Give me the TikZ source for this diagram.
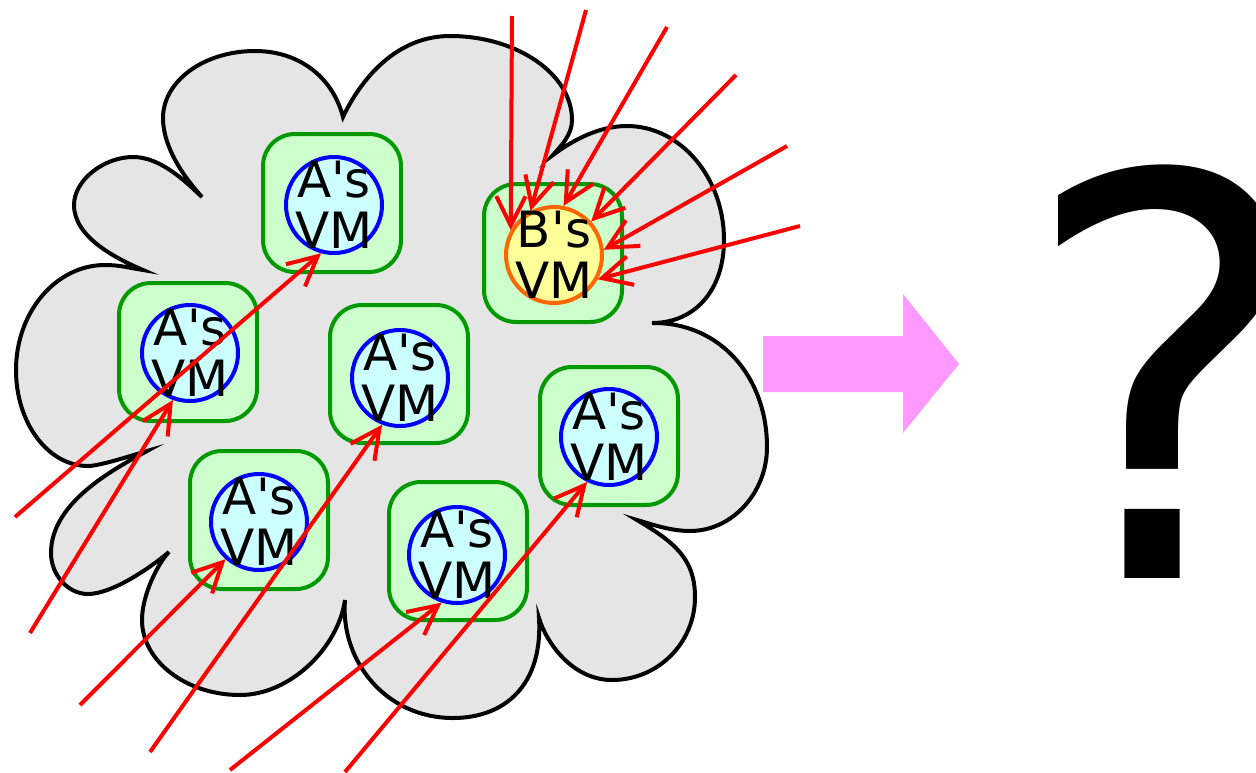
\documentclass[tikz,border=0pt]{standalone}
\usepackage{fontspec}
\newfontfamily\djv{DejaVu Sans}
\usetikzlibrary{arrows.meta}
\definecolor{cloudgray}{HTML}{E5E5E5}
\definecolor{boxgreen}{HTML}{CCFFCC}
\definecolor{boxline}{HTML}{009900}
\definecolor{vmcyan}{HTML}{CCFFFF}
\definecolor{vmyellow}{HTML}{FFFF99}
\definecolor{vmorange}{HTML}{FF6600}
\definecolor{pinkarrow}{HTML}{FF99FF}

\begin{document}
\begin{tikzpicture}[x=0.75pt,y=-0.75pt,
  cloud/.style={draw=black, fill=cloudgray, line width=3pt, line join=miter},
  host/.style={draw=boxline, fill=boxgreen, line width=3pt, rounded corners=24pt,
    minimum width=103.5pt, minimum height=103.5pt, inner sep=0pt},
  vm/.style={circle, draw=blue, fill=vmcyan, line width=3pt, minimum size=72pt, inner sep=0pt},
  vmb/.style={vm, draw=vmorange, fill=vmyellow},
  vmlabel/.style={font=\djv\fontsize{37.5pt}{38.25pt}\selectfont, align=center, inner sep=0pt},
  traffic/.style={draw=red, line width=3pt, -{Straight Barb[length=22pt,width=22pt,sharp]}},
]
\useasboundingbox (0,0) rectangle (1256,772);

% the cloud: ten bumps meeting in cusps
\filldraw[cloud] (143,270)
  .. controls (115,258) and (74,237) .. (74,205)
  .. controls (74,180) and (104,157) .. (133,157)
  .. controls (160,157) and (184,180) .. (202,197)
  .. controls (182,175) and (163,146) .. (163,118)
  .. controls (163,81) and (204,51) .. (255,51)
  .. controls (300,51) and (333,78) .. (343,117)
  .. controls (360,81) and (395,36) .. (450,36)
  .. controls (517,36) and (572,74) .. (572,120)
  .. controls (572,135) and (561,146) .. (553,155)
  .. controls (573,140) and (599,126) .. (627,126)
  .. controls (680,126) and (724,177) .. (724,240)
  .. controls (724,290) and (695,323) .. (652,323)
  .. controls (720,322) and (767,377) .. (767,447)
  .. controls (767,493) and (732,531) .. (690,531)
  .. controls (670,531) and (651,524) .. (637,520)
  .. controls (672,541) and (695,557) .. (695,597)
  .. controls (695,643) and (658,680) .. (612,680)
  .. controls (572,680) and (546,642) .. (539,618)
  .. controls (543,685) and (505,718) .. (453,718)
  .. controls (385,718) and (340,660) .. (345,600)
  .. controls (338,648) and (290,695) .. (240,695)
  .. controls (186,695) and (142,661) .. (142,620)
  .. controls (142,595) and (158,563) .. (169,552)
  .. controls (150,568) and (112,594) .. (88,594)
  .. controls (68,594) and (51,575) .. (51,553)
  .. controls (51,503) and (112,470) .. (147,451)
  .. controls (133,455) and (100,466) .. (88,466)
  .. controls (48,466) and (16,423) .. (16,370)
  .. controls (16,312) and (56,265) .. (105,265)
  .. controls (120,265) and (130,268) .. (143,270)
  -- cycle;

% hosts
\node[host] (h1) at (332,203) {};
\node[host] (h2) at (188,352) {};
\node[host] (h3) at (399,374) {};
\node[host] (h4) at (553,253) {};
\node[host] (h5) at (609,436) {};
\node[host] (h6) at (259,520) {};
\node[host] (h7) at (458,551) {};

% virtual machines
\node[vm] (vm1) at (334,205) {};
\node[vm] (vm2) at (190,353) {};
\node[vm] (vm3) at (400,378) {};
\node[vmb] (vm4) at (554,255) {};
\node[vm] (vm5) at (609,437) {};
\node[vm] (vm6) at (259,522) {};
\node[vm] (vm7) at (457,555) {};

\node[vmlabel] (t1) at (vm1) {A's\\VM};
\node[vmlabel] (t2) at (vm2) {A's\\VM};
\node[vmlabel] (t3) at (vm3) {A's\\VM};
\node[vmlabel] (t4) at (vm4) {B's\\VM};
\node[vmlabel] (t5) at (vm5) {A's\\VM};
\node[vmlabel] (t6) at (vm6) {A's\\VM};
\node[vmlabel] (t7) at (vm7) {A's\\VM};

% incoming traffic
\coordinate (s1) at (15,517);
\coordinate (s2) at (30,633);
\coordinate (s3) at (80,705);
\coordinate (s4) at (150,752);
\coordinate (s5) at (230,770);
\coordinate (s6) at (345,772);
\coordinate (b1) at (512,16);
\coordinate (b2) at (586,10);
\coordinate (b3) at (667,27);
\coordinate (b4) at (736,75);
\coordinate (b5) at (787,146);
\coordinate (b6) at (800,226);

\draw[traffic] (s1) -- (vm1.255);
\draw[traffic] (s2) -- (vm2.250);
\draw[traffic] (s3) -- (vm6.228);
\draw[traffic] (s4) -- (vm3.249);
\draw[traffic] (s5) -- (vm7.252);
\draw[traffic] (s6) -- (vm5.244);
\draw[traffic] (b1) -- (vm4.150);
\draw[traffic] (b2) -- (vm4.118);
\draw[traffic] (b3) -- (vm4.79);
\draw[traffic] (b4) -- (vm4.42);
\draw[traffic] (b5) -- (vm4.6);
\draw[traffic] (b6) -- (vm4.331);

% block arrow and question mark
\fill[pinkarrow] (763,336) -- (903,336) -- (903,294) -- (959,364) -- (903,433) -- (903,392) -- (763,392) -- cycle;
\node[font=\djv\fontsize{418pt}{418pt}\selectfont, anchor=base west, inner sep=0pt] (q) at (1018,578) {?};
\end{tikzpicture}
\end{document}
